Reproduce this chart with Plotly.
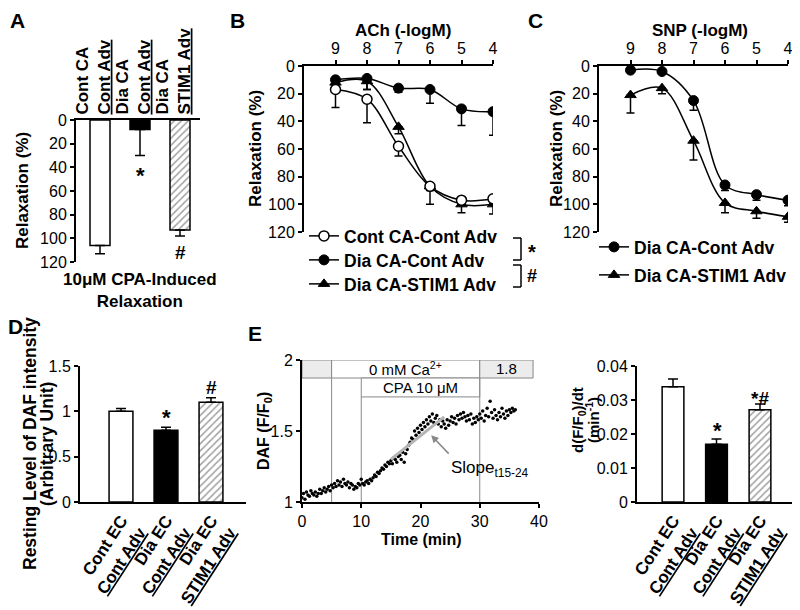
import plotly.graph_objects as go

# the page body adds an 8px margin, so the figure is 8px smaller and all
# positions below are given in reference-image pixels
OFF = 8
W, H = 800 - OFF, 610 - OFF


def px(x):
    return (x - OFF) / W


def py(y):
    return 1 - (y - OFF) / H


FONT = 'Liberation Sans, Arial, sans-serif'

# --- A: CPA-induced relaxation
cpaGroups = ['Cont CA<br><u>Cont Adv</u>', 'Dia CA<br><u>Cont Adv</u>', 'Dia CA<br><u>STIM1 Adv</u>']
cpaRelax = [106, 8, 93]
cpaErr = [7, 22, 5]

# --- B: ACh dose response (-logM)
logDose = [9, 8, 7, 6, 5, 4]
achContCont = [17, 24, 58, 87, 97, 96]
achContContErr = [13, 17, 7, 3, 2, 2]
achDiaCont = [10, 9, 16, 17, 31, 33]
achDiaContErr = [2, 8, 3, 10, 12, 17]
achDiaStim = [12, 11, 44, 87, 100, 100]
achDiaStimErr = [2, 6, 5, 13, 6, 7]

# --- C: SNP dose response (-logM)
snpDiaCont = [3, 4, 25, 86, 93, 97]
snpDiaContErr = [1, 1, 7, 4, 4, 4]
snpDiaStim = [21, 16, 54, 99, 105, 109]
snpDiaStimErr = [13, 4, 14, 7, 5, 4]

# --- D: resting DAF
ecGroups = ['Cont EC<br><u>Cont Adv</u>', 'Dia EC<br><u>Cont Adv</u>', 'Dia EC<br><u>STIM1 Adv</u>']
dafRest = [1.0, 0.79, 1.10]
dafRestErr = [0.03, 0.035, 0.05]

# --- E: DAF trace, one reading every 0.25 min
dafRatio = [
    1.03, 1.06, 1.02, 1.07, 1.05, 1.04, 1.08, 1.06, 1.05, 1.07, 1.04, 1.06,
    1.09, 1.06, 1.08, 1.10, 1.07, 1.09, 1.11, 1.08, 1.12, 1.10, 1.13, 1.11,
    1.15, 1.12, 1.14, 1.11, 1.16, 1.13, 1.12, 1.14, 1.10, 1.13, 1.12, 1.09,
    1.11, 1.10, 1.13, 1.12, 1.16, 1.13, 1.12, 1.14, 1.15, 1.13, 1.16, 1.15,
    1.17, 1.19, 1.18, 1.21, 1.20, 1.22, 1.24, 1.23, 1.26, 1.25, 1.28, 1.27,
    1.29, 1.27, 1.31, 1.30, 1.28, 1.32, 1.33, 1.30, 1.35, 1.28, 1.34, 1.37,
    1.40, 1.42, 1.45, 1.44, 1.50, 1.47, 1.52, 1.49, 1.54, 1.51, 1.56, 1.53,
    1.58, 1.55, 1.60, 1.57, 1.62, 1.56, 1.59, 1.61, 1.55, 1.58, 1.53, 1.57,
    1.55, 1.52, 1.58, 1.54, 1.57, 1.60, 1.56, 1.59, 1.55, 1.61, 1.58, 1.62,
    1.59, 1.63, 1.60, 1.57, 1.61, 1.58, 1.62, 1.55, 1.59, 1.56, 1.60, 1.58,
    1.62, 1.59, 1.64, 1.57, 1.61, 1.66, 1.60, 1.71, 1.63, 1.59, 1.65, 1.61,
    1.58, 1.63, 1.60, 1.66, 1.62, 1.59, 1.64, 1.61, 1.65, 1.63, 1.66, 1.64,
    1.65,
]
dafTime = [i * 0.25 for i in range(len(dafRatio))]
slopeT = [15, 24]
slopeY = [1.30, 1.60]

dafSlope = [0.0339, 0.0170, 0.0271]
dafSlopeErr = [0.0023, 0.0015, 0.0017]

fig = go.Figure()

bar_marker = dict(color=['white', 'black', 'white'],
                  line=dict(color='black', width=1.5),
                  pattern=dict(shape=['', '', '/'], fgcolor='#444', size=5, solidity=0.3))


def err(arr, w=5):
    return dict(type='data', array=arr, arrayminus=[0] * len(arr), symmetric=False,
                color='black', thickness=1.5, width=w)


fig.add_trace(go.Bar(x=[0, 1, 2], y=cpaRelax, width=0.5, marker=bar_marker,
                     error_y=err(cpaErr), xaxis='x', yaxis='y', showlegend=False))
fig.add_trace(go.Bar(x=[0, 1, 2], y=dafRest, width=0.53, marker=bar_marker,
                     error_y=err(dafRestErr), xaxis='x4', yaxis='y4', showlegend=False))
fig.add_trace(go.Bar(x=[0, 1, 2], y=dafSlope, width=0.5, marker=bar_marker,
                     error_y=err(dafSlopeErr), xaxis='x6', yaxis='y6', showlegend=False))

open_c = dict(symbol='circle', size=10, color='white', line=dict(color='black', width=1.5))
fill_c = dict(symbol='circle', size=10, color='black', line=dict(color='black', width=1))
tri = dict(symbol='triangle-up', size=10, color='black', line=dict(color='black', width=1))


def curve(y, e, mk, name, xa, ya, leg):
    return go.Scatter(x=logDose, y=y, name=name, mode='lines+markers', marker=mk,
                      line=dict(color='black', width=1.5, shape='spline', smoothing=1.0),
                      error_y=err(e, 4), xaxis=xa, yaxis=ya, legend=leg)


fig.add_trace(curve(achDiaStim, achDiaStimErr, tri, 'Dia CA-STIM1 Adv', 'x2', 'y2', 'legend3'))
fig.add_trace(curve(achDiaCont, achDiaContErr, fill_c, 'Dia CA-Cont Adv', 'x2', 'y2', 'legend2'))
fig.add_trace(curve(achContCont, achContContErr, open_c, 'Cont CA-Cont Adv', 'x2', 'y2', 'legend'))
fig.add_trace(curve(snpDiaStim, snpDiaStimErr, tri, 'Dia CA-STIM1 Adv', 'x3', 'y3', 'legend5'))
fig.add_trace(curve(snpDiaCont, snpDiaContErr, fill_c, 'Dia CA-Cont Adv', 'x3', 'y3', 'legend4'))

fig.add_trace(go.Scatter(x=dafTime, y=dafRatio, mode='markers',
                         marker=dict(color='black', size=3.5), xaxis='x5', yaxis='y5', showlegend=False))
fig.add_trace(go.Scatter(x=slopeT, y=slopeY, mode='lines', line=dict(color='#b4b4b4', width=3),
                         xaxis='x5', yaxis='y5', showlegend=False))

tick_font = dict(family=FONT, size=16, color='black')
cat_font = dict(family=FONT, size=17, color='black', weight='bold')
ax_common = dict(showgrid=False, zeroline=False, showline=True, linecolor='black', linewidth=2,
                 tickfont=tick_font, fixedrange=True, automargin=False)
y_common = dict(ax_common, ticks='outside', ticklen=4, tickwidth=1.5, tickcolor='black')

fig.update_layout(
    width=W, height=H, margin=dict(l=0, r=0, t=0, b=0, autoexpand=False),
    paper_bgcolor='white', plot_bgcolor='white', font=dict(family=FONT, color='black'),
    xaxis=dict(ax_common, domain=[px(76), px(200)], range=[-0.6, 2.5], tickvals=[-0.17, 0.83, 1.83],
               ticktext=cpaGroups, side='top', tickangle=-90, ticks='', tickfont=cat_font, anchor='y'),
    yaxis=dict(y_common, domain=[py(262), py(120)], range=[120, 0], tickvals=[0, 20, 40, 60, 80, 100, 120],
               anchor='x'),
    xaxis2=dict(y_common, domain=[px(304), px(493)], range=[10, 4], tickvals=logDose, side='top',
                anchor='y2'),
    yaxis2=dict(y_common, domain=[py(232), py(66)], range=[120, 0], tickvals=[0, 20, 40, 60, 80, 100, 120],
                anchor='x2'),
    xaxis3=dict(y_common, domain=[px(599), px(788)], range=[10, 4], tickvals=logDose, side='top',
                anchor='y3'),
    yaxis3=dict(y_common, domain=[py(232), py(66)], range=[120, 0], tickvals=[0, 20, 40, 60, 80, 100, 120],
                anchor='x3'),
    xaxis4=dict(ax_common, domain=[px(80), px(246)], range=[-0.911, 2.778], tickvals=[0, 1, 2],
                ticktext=ecGroups, tickangle=-57, ticks='', tickfont=cat_font, anchor='y4'),
    yaxis4=dict(y_common, domain=[py(502), py(366)], range=[0, 1.5], tickvals=[0, 0.5, 1, 1.5], anchor='x4'),
    xaxis5=dict(y_common, domain=[px(302), px(539)], range=[0, 40], tickvals=[0, 10, 20, 30, 40],
                anchor='y5'),
    yaxis5=dict(y_common, domain=[py(502), py(360)], range=[1, 2], tickvals=[1, 1.5, 2], anchor='x5'),
    xaxis6=dict(ax_common, domain=[px(637), px(792)], range=[-0.828, 2.736], tickvals=[0, 1, 2],
                ticktext=ecGroups, tickangle=-57, ticks='', tickfont=cat_font, anchor='y6'),
    yaxis6=dict(y_common, domain=[py(502), py(366)], range=[0, 0.04],
                tickvals=[0, 0.01, 0.02, 0.03, 0.04], anchor='x6'),
)

leg_font = dict(family=FONT, size=17.5, color='black', weight='bold')
for key, xp, yp in [('legend', 304, 236), ('legend2', 304, 260), ('legend3', 304, 284),
                    ('legend4', 594, 247), ('legend5', 594, 275)]:
    fig.update_layout({key: dict(x=px(xp), y=py(yp), xanchor='left', yanchor='middle',
                                 font=leg_font, bgcolor='rgba(0,0,0,0)', itemwidth=30)})

ann = []


def text(x, y, t, size=17, bold=True, angle=0, xref='paper', yref='paper', **kw):
    ann.append(dict(x=x, y=y, xref=xref, yref=yref, text=t, showarrow=False, textangle=angle,
                    xanchor='center', yanchor='middle',
                    font=dict(family=FONT, size=size, color='black', weight='bold' if bold else 'normal'),
                    **kw))


# panel letters
for lab, xp, yp in [('A', 17, 21), ('B', 237, 21), ('C', 535, 21), ('D', 15, 326), ('E', 255, 333)]:
    text(px(xp), py(yp), lab, size=21)

# axis titles
text(px(23), py(191), 'Relaxation (%)', angle=-90)
text(px(255), py(149), 'Relaxation (%)', angle=-90)
text(px(556), py(149), 'Relaxation (%)', angle=-90)
text(px(403), py(30), 'ACh (-logM)')
text(px(700), py(30), 'SNP (-logM)')
text(px(140), py(290), '10μM CPA-Induced<br>Relaxation')
text(px(30), py(444), 'Resting Level of DAF intensity', size=17.5, angle=-90)
text(px(47), py(444), '(Arbitrary Unit)', size=17.5, angle=-90)
text(px(264), py(431), 'DAF (F/F<sub>0</sub>)', size=16, angle=-90)
text(px(421), py(539), 'Time (min)', size=16)
text(px(578), py(420), 'd(F/F<sub>0</sub>)/dt', size=15, angle=-90)
text(px(592), py(420), '(min<sup>-1</sup>)', size=15, angle=-90)

# significance marks
text(px(140), py(175), '*', size=22)
text(px(180), py(252), '#', size=19)
text(px(166), py(417), '*', size=22)
text(px(211), py(387), '#', size=19)
text(px(717), py(430), '*', size=22)
text(px(760), py(398), '*#', size=19)
text(px(532), py(252), '*', size=20)
text(px(532), py(276), '#', size=18)

# E header labels
text(17.5, 1.937, '0 mM Ca<sup>2+</sup>', size=15, bold=False, xref='x5', yref='y5')
text(34.5, 1.937, '1.8', size=15, bold=False, xref='x5', yref='y5')
text(20, 1.807, 'CPA 10 μM', size=15, bold=False, xref='x5', yref='y5')
text(31.8, 1.235, 'Slope<sub>t15-24</sub>', size=17, bold=False, xref='x5', yref='y5')
ann.append(dict(x=21.8, y=1.47, ax=25.0, ay=1.33, xref='x5', yref='y5', axref='x5', ayref='y5',
                text='', showarrow=True, arrowhead=2, arrowsize=1, arrowwidth=1.5, arrowcolor='#888'))

fig.update_layout(annotations=ann)

shapes = []
gline = dict(color='#888', width=1)
for x0, x1, y0, y1, fill in [(0, 5, 1.873, 2, '#ececec'), (5, 30, 1.873, 2, 'white'),
                             (30, 39, 1.873, 2, '#ececec'), (10, 30, 1.74, 1.873, 'white')]:
    shapes.append(dict(type='rect', xref='x5', yref='y5', x0=x0, x1=x1, y0=y0, y1=y1,
                       fillcolor=fill, line=gline, layer='below'))
for xv, top in [(5, 1.873), (10, 1.74), (30, 1.873)]:
    shapes.append(dict(type='line', xref='x5', yref='y5', x0=xv, x1=xv, y0=1, y1=top, line=gline,
                       layer='below'))

# brackets next to legend B
blk = dict(color='black', width=1.5)
for y0, y1 in [(238, 260), (265, 287)]:
    shapes.append(dict(type='line', xref='paper', yref='paper', x0=px(521), x1=px(521), y0=py(y0), y1=py(y1),
                       line=blk))
    shapes.append(dict(type='line', xref='paper', yref='paper', x0=px(513), x1=px(521), y0=py(y0), y1=py(y0),
                       line=blk))
    shapes.append(dict(type='line', xref='paper', yref='paper', x0=px(513), x1=px(521), y0=py(y1), y1=py(y1),
                       line=blk))
fig.update_layout(shapes=shapes)

fig.write_html("out.html")
